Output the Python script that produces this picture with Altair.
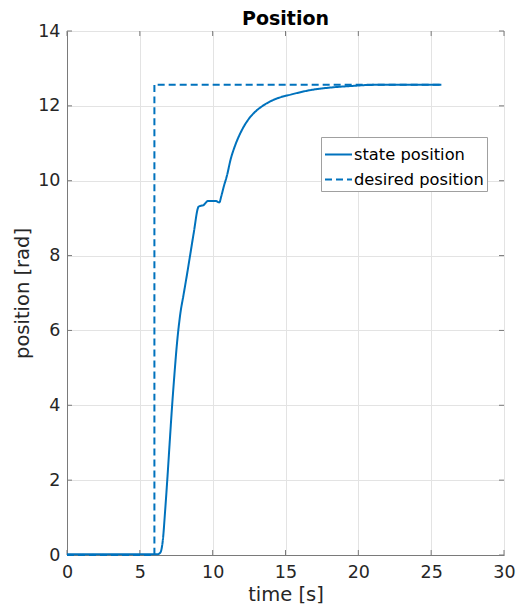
import altair as alt
import pandas as pd

# ---- data ----
state_t = [0, 6.2, 6.4, 6.58, 6.74, 6.9, 7.04, 7.2, 7.36, 7.55, 7.78, 8.0, 8.24, 8.47,
           8.69, 9.04, 9.2, 9.38, 9.5, 9.66, 10.19, 10.46, 10.6, 10.76, 10.99, 11.22,
           11.55, 11.9, 12.25, 12.6, 13.0, 13.51, 14.43, 15.35, 16.7, 18.1, 19.5, 20.85,
           22.5, 25.7]
state_y = [0.02, 0.02, 0.06, 0.4, 1.2, 2.1, 2.95, 3.9, 4.75, 5.65, 6.45, 6.95, 7.5,
           8.05, 8.58, 9.31, 9.33, 9.35, 9.4, 9.46, 9.46, 9.42, 9.6, 9.84, 10.15, 10.55,
           10.95, 11.27, 11.52, 11.71, 11.87, 12.02, 12.2, 12.3, 12.42, 12.49, 12.53,
           12.56, 12.566, 12.566]
desired_t = [0, 6.0, 6.0, 25.7]
desired_y = [0, 0, 12.566, 12.566]
series_names = ["state position", "desired position"]
x_ticks = [0, 5, 10, 15, 20, 25, 30]
y_ticks = [0, 2, 4, 6, 8, 10, 12, 14]

rows = []
for i, (t, y) in enumerate(zip(state_t, state_y)):
    rows.append({"series": series_names[0], "t": t, "y": y, "idx": i})
for i, (t, y) in enumerate(zip(desired_t, desired_y)):
    rows.append({"series": series_names[1], "t": t, "y": y, "idx": i})
df = pd.DataFrame(rows)
xt = pd.DataFrame({"v": x_ticks})
yt = pd.DataFrame({"v": y_ticks})

W, H = 437, 524
FONT = "DejaVu Sans"
TXT = "#262626"
FRAME = "#7a7a7a"
BLUE = "#0072BD"

xscale = alt.Scale(domain=[0, 30], nice=False, zero=False)
yscale = alt.Scale(domain=[0, 14], nice=False, zero=False)
xaxis = alt.Axis(values=x_ticks, title="time [s]", ticks=False, labelFontSize=17.5,
                 labelFont=FONT, labelColor=TXT, labelPadding=8, titleFont=FONT,
                 titleFontSize=19.5, titleFontWeight="normal", titleColor=TXT,
                 titlePadding=5, domainColor=FRAME, gridColor="#e3e3e3",
                 labelFlush=False, labelOverlap=False)
yaxis = alt.Axis(values=y_ticks, title="position [rad]", ticks=False, labelFontSize=17.5,
                 labelFont=FONT, labelColor=TXT, labelPadding=7, titleFont=FONT,
                 titleFontSize=19.5, titleFontWeight="normal", titleColor=TXT,
                 titlePadding=5, domainColor=FRAME, gridColor="#e3e3e3",
                 labelFlush=False, labelOverlap=False)

lines = alt.Chart(df).mark_line(strokeWidth=2, interpolate="monotone").encode(
    x=alt.X("t:Q", scale=xscale, axis=xaxis),
    y=alt.Y("y:Q", scale=yscale, axis=yaxis),
    color=alt.Color("series:N", sort=series_names,
                    scale=alt.Scale(domain=series_names, range=[BLUE, BLUE]),
                    legend=alt.Legend(title=None, orient="none", legendX=254, legendY=106,
                                      symbolType="stroke", symbolSize=729,
                                      symbolStrokeWidth=2, labelFontSize=16.3,
                                      labelFont=FONT, labelColor="black",
                                      strokeColor="#a0a0a0", fillColor="white",
                                      padding=3, rowPadding=2, labelOffset=1)),
    strokeDash=alt.StrokeDash("series:N", sort=series_names,
                              scale=alt.Scale(domain=series_names, range=[[1, 0], [7, 4]]),
                              legend=alt.Legend(title=None, orient="none", legendX=254,
                                                legendY=106)),
    order="idx:Q",
)

tick_style = dict(color=FRAME, strokeWidth=1)
bx = alt.Chart(xt).mark_rule(**tick_style).encode(
    x=alt.X("v:Q", scale=xscale, axis=xaxis), y=alt.value(H), y2=alt.value(H - 5))
tx = alt.Chart(xt).mark_rule(**tick_style).encode(
    x=alt.X("v:Q", scale=xscale, axis=xaxis), y=alt.value(0), y2=alt.value(5))
ly = alt.Chart(yt).mark_rule(**tick_style).encode(
    y=alt.Y("v:Q", scale=yscale, axis=yaxis), x=alt.value(0), x2=alt.value(5))
ry = alt.Chart(yt).mark_rule(**tick_style).encode(
    y=alt.Y("v:Q", scale=yscale, axis=yaxis), x=alt.value(W), x2=alt.value(W - 5))

chart = alt.layer(bx, tx, ly, ry, lines).properties(
    width=W, height=H,
    title=alt.Title("Position", fontSize=19, fontWeight="bold", font=FONT,
                    color="black", anchor="middle", offset=-7),
    autosize=alt.AutoSizeParams(type="none"),
    padding={"left": 59, "top": 23, "right": 12, "bottom": 52},
).configure_view(stroke=FRAME, strokeWidth=1).configure(background="white")

chart.save("out.html", embed_options={"renderer": "svg", "actions": False})
